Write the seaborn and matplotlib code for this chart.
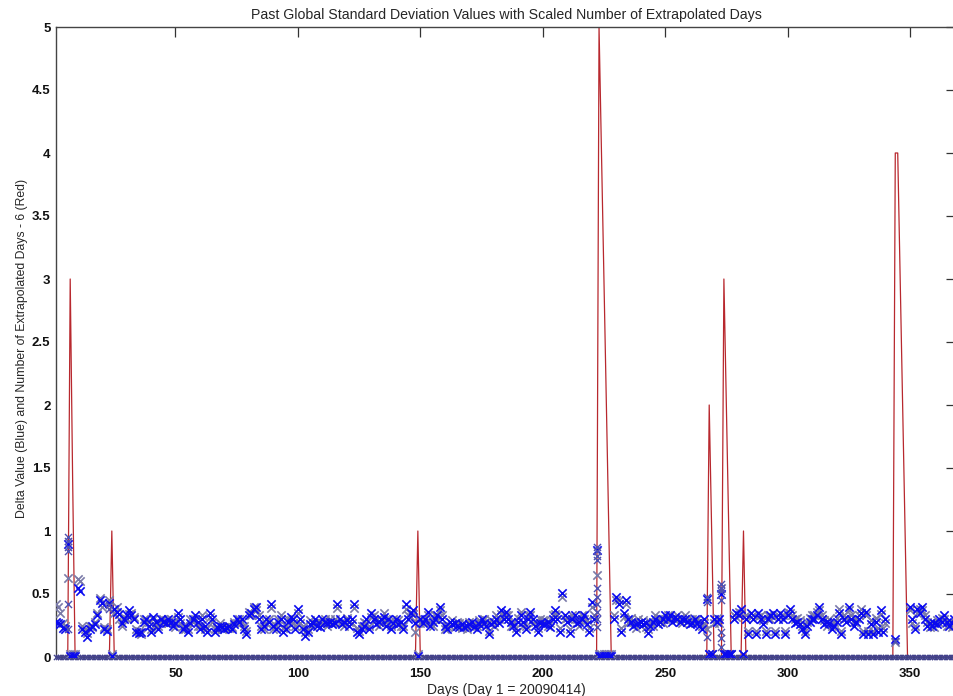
import numpy as np
import pandas as pd
import matplotlib
matplotlib.use("Agg")
import matplotlib.pyplot as plt
import seaborn as sns

nan = np.nan
days = list(range(1, 369))

delta_blue = [
    0.28, 0.27, 0.26, 0.23, 0.22, 0.90, 0.01, 0.01, 0.01, 0.55,
    0.52, 0.22, 0.20, 0.16, 0.22, 0.25, 0.26, 0.33, 0.45, 0.43,
    0.22, 0.21, 0.43, 0.01, 0.38, 0.36, 0.34, 0.27, 0.30, 0.33,
    0.37, 0.33, 0.30, 0.20, 0.19, 0.20, 0.28, 0.30, 0.25, 0.20,
    0.32, 0.28, 0.22, 0.30, 0.28, 0.27, 0.30, 0.28, 0.25, 0.27,
    0.35, 0.30, 0.22, 0.25, 0.20, 0.27, 0.30, 0.33, 0.28, 0.22,
    0.30, 0.25, 0.20, 0.35, 0.30, 0.20, 0.24, 0.25, 0.24, 0.22,
    0.23, 0.25, 0.22, 0.26, 0.30, 0.28, 0.30, 0.22, 0.18, 0.33,
    0.35, 0.38, 0.40, 0.30, 0.22, 0.25, 0.30, 0.28, 0.42, 0.25,
    0.22, 0.28, 0.30, 0.20, 0.22, 0.28, 0.32, 0.30, 0.22, 0.38,
    0.30, 0.22, 0.17, 0.20, 0.26, 0.27, 0.30, 0.25, 0.24, 0.30,
    0.28, 0.27, 0.28, 0.26, 0.27, 0.42, 0.30, 0.26, 0.28, 0.29,
    0.25, 0.30, 0.42, 0.20, 0.18, 0.22, 0.25, 0.30, 0.22, 0.35,
    0.30, 0.26, 0.28, 0.30, 0.32, 0.25, 0.30, 0.22, 0.27, 0.30,
    0.26, 0.28, 0.22, 0.42, 0.30, 0.35, 0.37, 0.27, 0.01, 0.30,
    0.27, 0.30, 0.36, 0.25, 0.28, 0.30, 0.33, 0.40, 0.30, 0.25,
    0.22, 0.28, 0.26, 0.27, 0.25, 0.24, 0.26, 0.24, 0.25, 0.26,
    0.28, 0.24, 0.22, 0.26, 0.30, 0.27, 0.25, 0.18, 0.26, 0.28,
    0.30, 0.27, 0.37, 0.30, 0.36, 0.30, 0.28, 0.25, 0.20, 0.28,
    0.33, 0.28, 0.22, 0.30, 0.36, 0.30, 0.25, 0.20, 0.27, 0.26,
    0.26, 0.28, 0.24, 0.30, 0.37, 0.30, 0.20, 0.51, 0.33, 0.28,
    0.19, 0.30, 0.33, 0.27, 0.28, 0.30, 0.33, 0.26, 0.20, 0.44,
    0.30, 0.85, 0.01, 0.01, 0.01, 0.01, 0.01, 0.01, 0.30, 0.48,
    0.42, 0.20, 0.35, 0.45, 0.30, 0.28, 0.25, 0.26, 0.27, 0.28,
    0.26, 0.27, 0.19, 0.25, 0.28, 0.30, 0.26, 0.28, 0.30, 0.33,
    0.30, 0.33, 0.28, 0.32, 0.30, 0.28, 0.30, 0.30, 0.28, 0.26,
    0.27, 0.30, 0.27, 0.25, 0.22, 0.30, 0.46, 0.02, 0.02, 0.30,
    0.28, 0.30, 0.50, 0.02, 0.02, 0.02, 0.02, 0.30, 0.35, 0.33,
    0.38, 0.02, 0.30, 0.18, 0.35, 0.30, 0.18, 0.35, 0.30, 0.26,
    0.18, 0.30, 0.33, 0.35, 0.18, 0.30, 0.35, 0.30, 0.18, 0.33,
    0.38, 0.30, 0.27, 0.28, 0.26, 0.22, 0.18, 0.25, 0.28, 0.30,
    0.30, 0.33, 0.40, 0.30, 0.26, 0.28, 0.27, 0.22, 0.25, 0.28,
    0.35, 0.18, 0.30, 0.28, 0.40, 0.30, 0.25, 0.28, 0.30, 0.35,
    0.18, 0.36, 0.18, 0.26, 0.18, 0.28, 0.20, 0.37, 0.20, 0.30,
    nan, nan, nan, 0.14, nan, nan, nan, nan, nan, 0.40,
    0.30, 0.22, 0.38, 0.35, 0.40, 0.30, 0.25, 0.27, 0.25, 0.27,
    0.26, 0.30, 0.28, 0.33, 0.28, 0.25, 0.27, 0.30,
]

delta_gray = [
    0.42, 0.40, 0.35, 0.27, 0.25, 0.63, 0.02, 0.02, 0.02, 0.62,
    0.60, 0.25, 0.22, 0.19, 0.25, 0.24, 0.28, 0.35, 0.47, 0.40,
    0.24, 0.22, 0.45, 0.02, 0.35, 0.40, 0.30, 0.25, 0.32, 0.30,
    0.34, 0.35, 0.32, 0.22, 0.21, 0.18, 0.30, 0.27, 0.28, 0.22,
    0.30, 0.25, 0.25, 0.27, 0.30, 0.29, 0.27, 0.30, 0.28, 0.24,
    0.32, 0.27, 0.25, 0.22, 0.22, 0.30, 0.28, 0.30, 0.25, 0.25,
    0.33, 0.22, 0.23, 0.32, 0.28, 0.22, 0.22, 0.27, 0.22, 0.24,
    0.25, 0.23, 0.24, 0.28, 0.27, 0.30, 0.28, 0.25, 0.21, 0.36,
    0.33, 0.40, 0.37, 0.33, 0.25, 0.22, 0.27, 0.30, 0.39, 0.22,
    0.25, 0.30, 0.33, 0.23, 0.25, 0.30, 0.29, 0.27, 0.25, 0.35,
    0.27, 0.25, 0.20, 0.22, 0.29, 0.24, 0.27, 0.28, 0.27, 0.27,
    0.30, 0.25, 0.30, 0.28, 0.30, 0.39, 0.27, 0.28, 0.25, 0.31,
    0.28, 0.27, 0.39, 0.23, 0.21, 0.25, 0.28, 0.27, 0.25, 0.32,
    0.33, 0.29, 0.25, 0.27, 0.35, 0.28, 0.27, 0.25, 0.30, 0.27,
    0.29, 0.25, 0.25, 0.38, 0.33, 0.32, 0.34, 0.20, 0.02, 0.27,
    0.30, 0.27, 0.33, 0.28, 0.25, 0.33, 0.30, 0.37, 0.33, 0.22,
    0.25, 0.25, 0.29, 0.24, 0.28, 0.27, 0.23, 0.27, 0.22, 0.28,
    0.25, 0.27, 0.25, 0.29, 0.27, 0.30, 0.28, 0.21, 0.29, 0.25,
    0.33, 0.30, 0.34, 0.33, 0.33, 0.33, 0.25, 0.28, 0.23, 0.31,
    0.36, 0.25, 0.25, 0.33, 0.33, 0.27, 0.28, 0.23, 0.30, 0.29,
    0.29, 0.25, 0.27, 0.33, 0.34, 0.33, 0.23, 0.48, 0.30, 0.31,
    0.22, 0.33, 0.30, 0.30, 0.25, 0.33, 0.30, 0.29, 0.23, 0.40,
    0.33, 0.65, 0.02, 0.02, 0.02, 0.02, 0.02, 0.02, 0.33, 0.45,
    0.45, 0.23, 0.32, 0.42, 0.27, 0.31, 0.28, 0.23, 0.30, 0.25,
    0.29, 0.24, 0.22, 0.28, 0.25, 0.33, 0.29, 0.31, 0.27, 0.30,
    0.33, 0.30, 0.31, 0.29, 0.33, 0.31, 0.27, 0.33, 0.31, 0.29,
    0.30, 0.27, 0.30, 0.28, 0.25, 0.27, 0.22, 0.02, 0.02, 0.27,
    0.31, 0.27, 0.55, 0.02, 0.02, 0.02, 0.02, 0.33, 0.32, 0.36,
    0.35, 0.02, 0.33, 0.21, 0.32, 0.33, 0.21, 0.32, 0.33, 0.29,
    0.21, 0.33, 0.30, 0.32, 0.21, 0.33, 0.32, 0.33, 0.21, 0.36,
    0.35, 0.33, 0.30, 0.31, 0.29, 0.25, 0.21, 0.28, 0.31, 0.33,
    0.33, 0.36, 0.37, 0.33, 0.29, 0.25, 0.30, 0.25, 0.28, 0.31,
    0.38, 0.21, 0.33, 0.31, 0.37, 0.33, 0.28, 0.31, 0.33, 0.38,
    0.21, 0.33, 0.21, 0.29, 0.21, 0.31, 0.23, 0.34, 0.23, 0.27,
    nan, nan, nan, 0.12, nan, nan, nan, nan, nan, 0.37,
    0.27, 0.25, 0.35, 0.38, 0.37, 0.33, 0.28, 0.24, 0.28, 0.24,
    0.29, 0.27, 0.31, 0.30, 0.25, 0.28, 0.24, 0.27,
]

# extra values on days where several deltas stack vertically
stack_days = [6, 6, 6, 6, 6, 6, 23, 23,
              222, 222, 222, 222, 222, 222, 222, 222, 222, 222,
              267, 267, 267, 273, 273, 273, 273, 273, 273, 273, 344]
stack_vals = [0.95, 0.92, 0.87, 0.84, 0.42, 0.22, 0.41, 0.38,
              0.87, 0.84, 0.80, 0.77, 0.55, 0.48, 0.42, 0.36, 0.30, 0.24,
              0.48, 0.44, 0.16, 0.58, 0.55, 0.52, 0.45, 0.20, 0.15, 0.08, 0.13]

# scaled number of extrapolated days (red), zero elsewhere
red_days = [7, 8, 24, 149, 223, 224, 225, 226, 227, 268, 269,
            274, 275, 276, 282, 344, 345, 346, 347, 348]
red_vals = [3, 1.4, 1, 1, 5, 4, 3, 2, 1, 2, 1,
            3, 2, 1, 1, 4, 4, 3, 2, 1]

x_ticks = [50, 100, 150, 200, 250, 300, 350]
y_ticks = [0, 0.5, 1, 1.5, 2, 2.5, 3, 3.5, 4, 4.5, 5]
y_tick_labels = ["0", "0.5", "1", "1.5", "2", "2.5", "3", "3.5", "4", "4.5", "5"]

title = "Past Global Standard Deviation Values with Scaled Number of Extrapolated Days"
xlabel = "Days (Day 1 = 20090414)"
ylabel = "Delta Value (Blue) and Number of Extrapolated Days - 6 (Red)"

red = np.zeros(len(days))
for d, v in zip(red_days, red_vals):
    red[d - 1] = v

df = pd.DataFrame({"day": days, "blue": delta_blue[:len(days)],
                   "gray": delta_gray[:len(days)], "red": red,
                   "zero": np.zeros(len(days))})
stacks = pd.DataFrame({"day": stack_days, "val": stack_vals})

sns.set_style("white")
plt.rcParams["font.family"] = ["Liberation Sans", "DejaVu Sans"]

fig = plt.figure(figsize=(9.54, 6.96), dpi=100)
ax = fig.add_axes([56 / 954, 39 / 696, 900 / 954, 630 / 696])

sns.lineplot(data=df, x="day", y="red", ax=ax, color="#b8282e", lw=0.9,
             estimator=None, errorbar=None, sort=False, zorder=2)
sns.scatterplot(data=df, x="day", y="zero", ax=ax, marker="x", color="#42428c",
                s=14, linewidth=0.9, clip_on=False, zorder=3)
sns.scatterplot(data=df, x="day", y="gray", ax=ax, marker="x", color="#7a7aa8",
                s=36, linewidth=1.2, zorder=3)
sns.scatterplot(data=df, x="day", y="blue", ax=ax, marker="x", color="#0a0af0",
                s=36, linewidth=1.2, zorder=4)
sns.scatterplot(data=stacks, x="day", y="val", ax=ax, marker="x", color="#5050b0",
                s=26, linewidth=1.0, zorder=4)

ax.set_xlim(1.2, 368.8)
ax.set_ylim(0, 5)
ax.set_xticks(x_ticks)
ax.set_xticklabels([str(t) for t in x_ticks])
ax.set_yticks(y_ticks)
ax.set_yticklabels(y_tick_labels)
ax.tick_params(direction="in", length=7, width=0.9, top=True, right=True,
               labelsize=9.5, colors="#333333", labelcolor="#111111")
ax.tick_params(axis="x", pad=8)
ax.tick_params(axis="y", pad=4)
for lab in ax.get_xticklabels() + ax.get_yticklabels():
    lab.set_fontweight("bold")
for s in ax.spines.values():
    s.set_color("#444444")
    s.set_linewidth(1.0)

ax.set_xlabel(xlabel, fontsize=10, labelpad=2)
ax.set_ylabel(ylabel, fontsize=8.8)
ax.yaxis.set_label_coords(-0.031, 0.49)
ax.set_title(title, fontsize=10.2, pad=6)

fig.savefig("out.png", dpi=100)
